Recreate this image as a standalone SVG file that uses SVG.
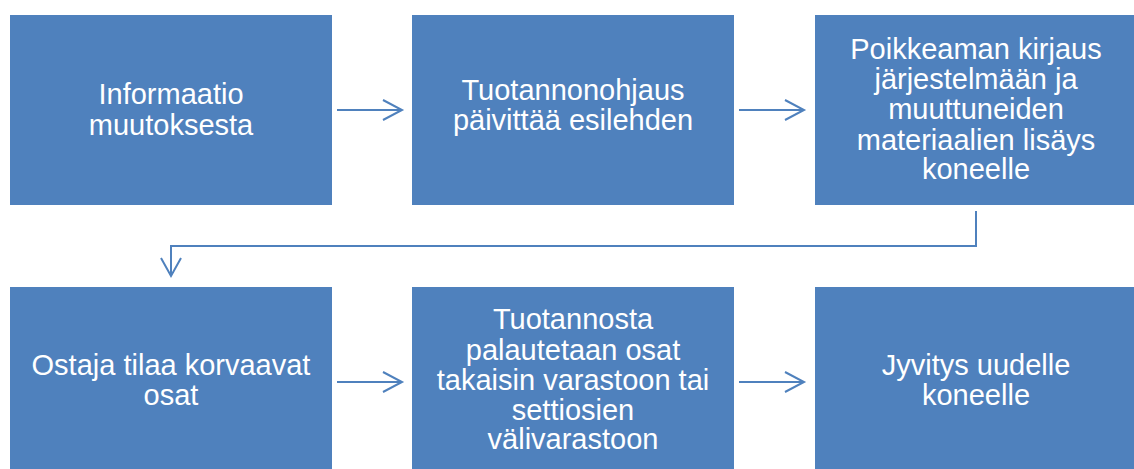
<svg xmlns="http://www.w3.org/2000/svg" width="1134" height="469" viewBox="0 0 1134 469">
<style>
.box{fill:#4F81BD;}
.t{fill:#FFFFFF;font-family:"Liberation Sans",Arial,sans-serif;font-size:29px;text-anchor:middle;}
.c{fill:none;stroke:#4F81BD;stroke-width:2;}
</style>
<rect width="1134" height="469" fill="#FFFFFF"/>
<g id="n1"><rect class="box" x="10" y="15" width="322" height="190"/>
<text class="t" x="171" y="104">Informaatio</text><text class="t" x="171" y="135">muutoksesta</text></g>
<g id="n2"><rect class="box" x="412" y="15" width="322" height="190"/>
<text class="t" x="573" y="100">Tuotannonohjaus</text><text class="t" x="573" y="130">päivittää esilehden</text></g>
<g id="n3"><rect class="box" x="815" y="15" width="322" height="190"/>
<text class="t" x="976" y="59">Poikkeaman kirjaus</text><text class="t" x="976" y="89">järjestelmään ja</text><text class="t" x="976" y="119">muuttuneiden</text><text class="t" x="976" y="150">materiaalien lisäys</text><text class="t" x="976" y="179">koneelle</text></g>
<g id="n4"><rect class="box" x="10" y="287" width="322" height="190"/>
<text class="t" x="171" y="375">Ostaja tilaa korvaavat</text><text class="t" x="171" y="405">osat</text></g>
<g id="n5"><rect class="box" x="412" y="287" width="322" height="190"/>
<text class="t" x="573" y="329">Tuotannosta</text><text class="t" x="573" y="360">palautetaan osat</text><text class="t" x="573" y="390">takaisin varastoon tai</text><text class="t" x="573" y="420">settiosien</text><text class="t" x="573" y="449">välivarastoon</text></g>
<g id="n6"><rect class="box" x="815" y="287" width="322" height="190"/>
<text class="t" x="976" y="375">Jyvitys uudelle</text><text class="t" x="976" y="405">koneelle</text></g>
<g id="connectors">
<path class="c" d="M337 110H402M383 100L402 110L383 120"/>
<path class="c" d="M739 110H804M785 100L804 110L785 120"/>
<path class="c" d="M976 211V246H171V276M161 258L171 276L181 258"/>
<path class="c" d="M337 382H402M383 372L402 382L383 392"/>
<path class="c" d="M739 382H804M785 372L804 382L785 392"/>
</g>
</svg>
